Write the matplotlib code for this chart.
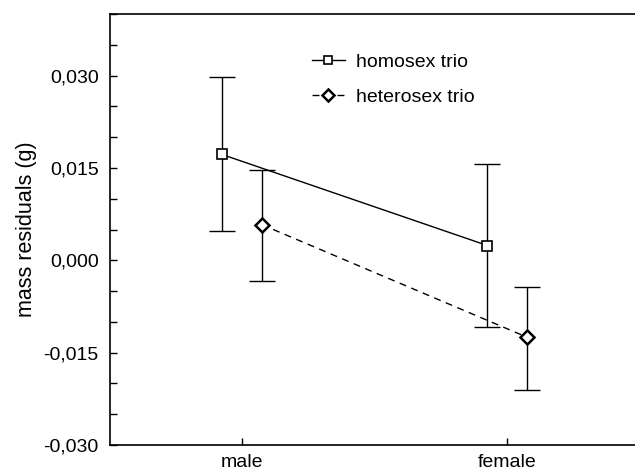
import matplotlib
matplotlib.use('Agg')
import matplotlib.pyplot as plt
import numpy as np

plt.rcParams['font.family'] = ['Liberation Sans', 'DejaVu Sans']

# groups on the x axis
groups = ['male', 'female']

# homosex trio: mean and error bar ends
homo_mean = [0.0172, 0.0024]
homo_upper = [0.0298, 0.0156]
homo_lower = [0.0047, -0.0108]

# heterosex trio
hetero_mean = [0.0058, -0.0125]
hetero_upper = [0.0147, -0.0043]
hetero_lower = [-0.0034, -0.0210]

yticks = [-0.030, -0.015, 0.000, 0.015, 0.030]
ytick_labels = ['-0,030', '-0,015', '0,000', '0,015', '0,030']

fig = plt.figure(figsize=(6.35, 4.72), dpi=100)
ax = fig.add_axes([0.1732, 0.0572, 0.8268, 0.9131])

x = np.arange(len(groups))
off = 0.075

def draw(xpos, mean, upper, lower, marker, ls, label):
    mean = np.array(mean)
    yerr = [mean - np.array(lower), np.array(upper) - mean]
    ax.errorbar(xpos, mean, yerr=yerr, fmt='none', ecolor='black',
                elinewidth=1, capsize=9.5, capthick=1, zorder=2)
    ax.plot(xpos, mean, color='black', lw=1, ls=ls, marker=marker,
            markersize=7 if marker == 's' else 7.5, markerfacecolor='white',
            markeredgecolor='black', markeredgewidth=1.2 if marker == 's' else 1.8,
            label=label, zorder=3)

draw(x - off, homo_mean, homo_upper, homo_lower, 's', '-', 'homosex trio')
draw(x + off, hetero_mean, hetero_upper, hetero_lower, 'D', (0, (5, 4)), 'heterosex trio')

ax.set_xlim(-0.496, 1.481)
ax.set_ylim(-0.030, 0.040)

ax.set_xticks(x)
ax.set_xticklabels(groups, fontsize=14)
ax.set_yticks(yticks)
ax.set_yticklabels(ytick_labels, fontsize=14)
ax.set_yticks(np.arange(-0.025, 0.0401, 0.005), minor=True)
ax.tick_params(axis='both', which='both', direction='in', length=5, width=1)
ax.tick_params(axis='x', pad=6.5)
ax.tick_params(axis='y', pad=8)

ax.spines['right'].set_visible(False)
for s in ['left', 'top', 'bottom']:
    ax.spines[s].set_linewidth(1.2)

ax.set_ylabel('mass residuals (g)', fontsize=15.5, labelpad=5)

ax.legend(loc='upper left', bbox_to_anchor=(0.351, 0.950), frameon=False,
          fontsize=14, handlelength=1.7, handletextpad=0.55, labelspacing=0.9,
          markerscale=0.85)

fig.savefig('out.png', dpi=100)
